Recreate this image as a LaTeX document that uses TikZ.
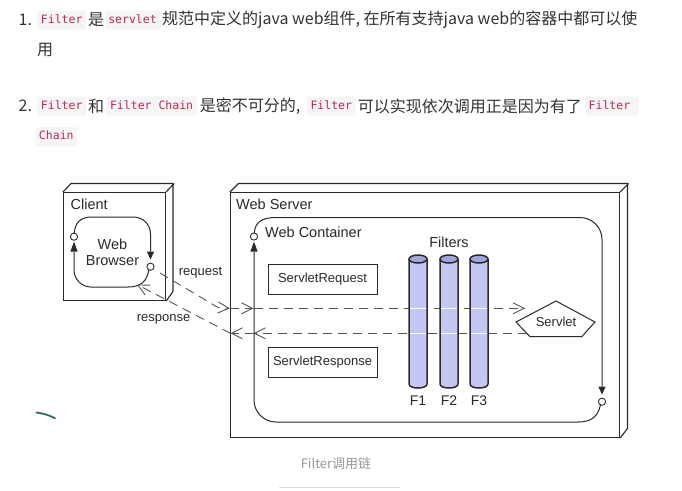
\documentclass[tikz,border=0pt]{standalone}
\usepackage{fontspec}
\setmainfont{Noto Sans CJK SC}
\newfontfamily\arialf{Liberation Sans}
\newfontfamily\monof{DejaVu Sans Mono}
\usetikzlibrary{arrows.meta}
\definecolor{txt}{HTML}{333333}
\definecolor{codefg}{HTML}{C7254E}
\definecolor{codebg}{HTML}{F5F5F5}
\definecolor{ln}{HTML}{2A2A2A}
\definecolor{dashc}{HTML}{555555}
\definecolor{cylf}{HTML}{C6C6F4}
\definecolor{cylt}{HTML}{A4A4DA}
\definecolor{capc}{HTML}{999999}
\definecolor{capl}{HTML}{DDDDDD}
\definecolor{markc}{HTML}{2E6B5B}
\begin{document}
\begin{tikzpicture}[x=1pt,y=-1pt,
  body/.style={font=\fontsize{16}{16}\selectfont, text=txt, inner sep=0pt, anchor=west},
  chip/.style={font=\monof\fontsize{11.5}{11.5}\selectfont, text=codefg, fill=codebg,
    rounded corners=2pt, inner xsep=3.5pt, inner ysep=0pt, minimum height=19pt,
    text height=8.5pt, text depth=2.5pt},
  lbl/.style={font=\arialf\fontsize{14.5}{14.5}\selectfont, text=ln, inner sep=0pt},
  sm/.style={font=\arialf\fontsize{13}{13}\selectfont, text=ln, inner sep=0pt},
  frame/.style={draw=ln, line width=1.1pt},
  cont/.style={draw=ln, line width=1pt},
  knob/.style={draw=ln, fill=white, line width=0.9pt},
  dsh/.style={draw=dashc, line width=0.9pt, dash pattern=on 9pt off 6pt,
    -{Straight Barb[length=11pt,width=11pt,line width=0.9pt]}},
  boxn/.style={draw=ln, line width=1pt, minimum width=109pt, minimum height=30pt, sm},
  cyl/.style={draw=ln, line width=1.5pt}
]
\useasboundingbox (0,0) rectangle (682,490);
\fill[white] (0,0) rectangle (682,490);

% ---------- text lines ----------
\node[body] (n1) at (18.5,20) {1.};
\node[chip] (c1) at (61.7,20) {Filter};
\node[body] (t1a) at (88,20) {是};
\node[chip] (c2) at (132.5,20) {servlet};
\node[body] (t1b) at (162,20) {规范中定义的java web组件, 在所有支持java web的容器中都可以使};
\node[body] (t1c) at (37,50) {用};

\node[body] (n2) at (18.5,106) {2.};
\node[chip] (c3) at (61.7,106) {Filter};
\node[body] (t2a) at (88,106) {和};
\node[chip] (c4) at (151.6,106) {Filter Chain};
\node[body] (t2b) at (199.6,106) {是密不可分的,};
\node[chip] (c5) at (331.3,106) {Filter};
\node[body] (t2c) at (357.6,106) {可以实现依次调用正是因为有了};
\node[chip, anchor=west] (c6) at (585,106) {Filter\hspace*{5pt}};
\node[chip] (c7) at (56.3,136.7) {Chain};

% ---------- Client box ----------
\node[frame, minimum width=102pt, minimum height=108pt, inner sep=0pt, anchor=north west] (client) at (63,192) {};
\draw[frame, line join=round] (client.north west) -- ++(8,-8.5) -- ++(102,0) -- ++(0,108) -- (client.south east);
\draw[frame] (client.north east) -- ++(8,-8.5);
\node[lbl, anchor=west] (clientlbl) at (70.5,204) {Client};

% Web Browser loop
\draw[cont] (74.3,233.2) .. controls (75,223) and (80,217) .. (92,217);
\draw[cont, rounded corners=17pt] (92,217) -- (150.5,217) -- (150.5,251.5);
\fill[ln] (150.5,259.5) -- (146.8,251.5) -- (154.2,251.5) -- cycle;
\draw[knob] (150.5,266.7) circle[radius=3.6];
\draw[cont] (148.8,270) .. controls (147,281) and (141,287) .. (128,287);
\draw[cont, rounded corners=17pt] (128,287) -- (74,287) -- (74,251.7);
\fill[ln] (74,241.7) -- (70.3,251.7) -- (77.7,251.7) -- cycle;
\draw[knob] (74,236.7) circle[radius=3.6];
\node[lbl] (web) at (112.5,244) {Web};
\node[lbl] (browser) at (112.5,261) {Browser};

% ---------- Web Server box ----------
\node[frame, minimum width=389pt, minimum height=245pt, inner sep=0pt, anchor=north west] (server) at (230,192) {};
\draw[frame, line join=round] (server.north west) -- ++(8.5,-8.5) -- ++(389,0) -- ++(0,245) -- (server.south east);
\draw[frame] (server.north east) -- ++(8.5,-8.5);
\node[lbl, anchor=west] (serverlbl) at (236,204) {Web Server};

% Web Container loop
\draw[cont] (254.3,232.8) .. controls (255,223) and (261,217.5) .. (276,217.5);
\draw[cont, rounded corners=22pt] (276,217.5) -- (602,217.5) -- (602,386.5);
\fill[ln] (602,394.5) -- (598.3,386.5) -- (605.7,386.5) -- cycle;
\draw[knob] (602,401.7) circle[radius=3.6];
\draw[cont] (600.5,405) .. controls (598,416) and (592,422) .. (578,422);
\draw[cont, rounded corners=22pt] (578,422) -- (254,422) -- (254,251.7);
\fill[ln] (254,241.7) -- (250.3,251.7) -- (257.7,251.7) -- cycle;
\draw[knob] (254,236.5) circle[radius=3.6];
\node[lbl, anchor=west] (contlbl) at (265,232) {Web Container};

% Servlet boxes
\node[boxn] (sreq) at (322.5,279) {ServletRequest};
\node[boxn] (sres) at (322.5,362.5) {ServletResponse};

% ---------- dashed connectors ----------
\coordinate (reqA) at (160,273);
\coordinate (reqK) at (218,307.5);
\coordinate (reqB) at (230,308.3);
\coordinate (reqC) at (253.5,308.3);
\coordinate (reqD) at (525,308.3);
\coordinate (resA) at (527,333.3);
\coordinate (resB) at (253.5,333.3);
\coordinate (resC) at (230.5,333.3);
\coordinate (resD) at (137,284.5);
\draw[dsh] (reqA) -- (reqK) -- (reqB);
\draw[dsh] (reqB) -- (reqC);
\draw[dsh] (reqC) -- (reqD);
\draw[dsh] (resA) -- (resB);
\draw[dsh] (resB) -- (resC);
\draw[dsh] (resC) -- (resD);
\node[sm] (reqlbl) at (200.5,272.5) {request};
\node[sm] (reslbl) at (163.5,319) {response};

% ---------- Filters ----------
\node[lbl] (filterslbl) at (449,242) {Filters};
\foreach \cx/\nm in {418/F1, 449/F2, 479/F3} {
  \fill[cylf] (\cx-9,259) -- (\cx-9,384) .. controls (\cx-9,389.33) and (\cx+9,389.33) .. (\cx+9,384) -- (\cx+9,259) -- cycle;
  \draw[white, line width=0.8pt] (\cx-8,308.3) -- (\cx+8,308.3);
  \draw[white, line width=0.8pt] (\cx-8,333.3) -- (\cx+8,333.3);
  \draw[cyl] (\cx-9,259) -- (\cx-9,384) .. controls (\cx-9,389.33) and (\cx+9,389.33) .. (\cx+9,384) -- (\cx+9,259);
  \filldraw[cyl, fill=cylt] (\cx,259) ellipse[x radius=9, y radius=4];
  \node[font=\arialf\fontsize{14}{14}\selectfont, text=ln, inner sep=0pt] (lab\nm) at (\cx,400.5) {\nm};
}

% ---------- Servlet ----------
\draw[cont, fill=white] (516,322) -- (556,301) -- (595,322) -- (581.7,336.7) -- (530,336.7) -- cycle;
\node[sm] (servlet) at (556,322) {Servlet};

% ---------- stray mark & caption ----------
\draw[markc, line width=1.8pt, line cap=round] (36.5,412.5) .. controls (44,413.5) and (50,415.5) .. (55,418.3);
\node[font=\fontsize{13}{13}\selectfont, text=capc, inner sep=0pt] (cap) at (336,463.5) {Filter调用链};
\draw[capl, line width=0.9pt] (279,487) -- (400,487);
\end{tikzpicture}
\end{document}
